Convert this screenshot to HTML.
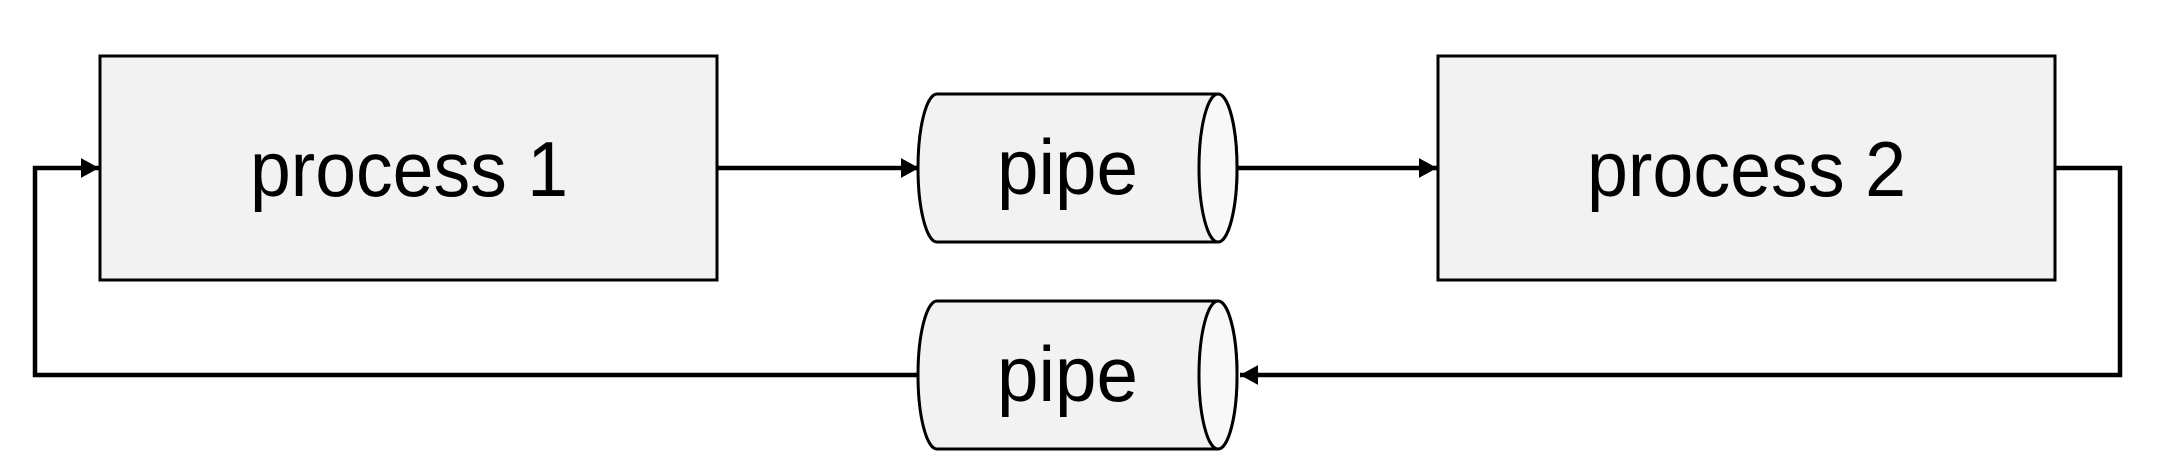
<!DOCTYPE html>
<html><head><style>html,body{margin:0;padding:0;background:#fff}svg{display:block}</style></head>
<body>
<svg width="2182" height="474" viewBox="0 0 2182 474" xmlns="http://www.w3.org/2000/svg">
<defs>
<marker id="a" markerWidth="4" markerHeight="4.4" refX="4" refY="2.2" orient="auto" markerUnits="strokeWidth"><path d="M0,0 L4,2.2 L0,4.4 z" fill="#000"/></marker>
</defs>
<g stroke="#000" stroke-width="4.5" fill="none">
<path d="M717,168 H919" marker-end="url(#a)"/>
<path d="M1237,168 H1437" marker-end="url(#a)"/>
<path d="M2055,168 H2120 V375 H1240" marker-end="url(#a)"/>
<path d="M919,375 H35 V168 H99" marker-end="url(#a)"/>
</g>
<g stroke="#000" stroke-width="3" fill="#f2f2f2">
<rect x="100" y="56" width="617" height="224"/>
<rect x="1438" y="56" width="617" height="224"/>
<path d="M937,94 H1218 A19,74 0 0 1 1218,242 H937 A19,74 0 0 1 937,94 Z"/>
<ellipse cx="1218" cy="168" rx="19" ry="74" fill="#f8f8f8"/>
<path d="M937,301 H1218 A19,74 0 0 1 1218,449 H937 A19,74 0 0 1 937,301 Z"/>
<ellipse cx="1218" cy="375" rx="19" ry="74" fill="#f8f8f8"/>
</g>
<g font-family="'Liberation Sans',sans-serif" font-size="78" fill="#000">
<text x="250" y="196" textLength="318" lengthAdjust="spacingAndGlyphs">process 1</text>
<text x="1587" y="196" textLength="319" lengthAdjust="spacingAndGlyphs">process 2</text>
<text x="997" y="194" textLength="141" lengthAdjust="spacingAndGlyphs">pipe</text>
<text x="997" y="401" textLength="141" lengthAdjust="spacingAndGlyphs">pipe</text>
</g>
</svg>
</body></html>
